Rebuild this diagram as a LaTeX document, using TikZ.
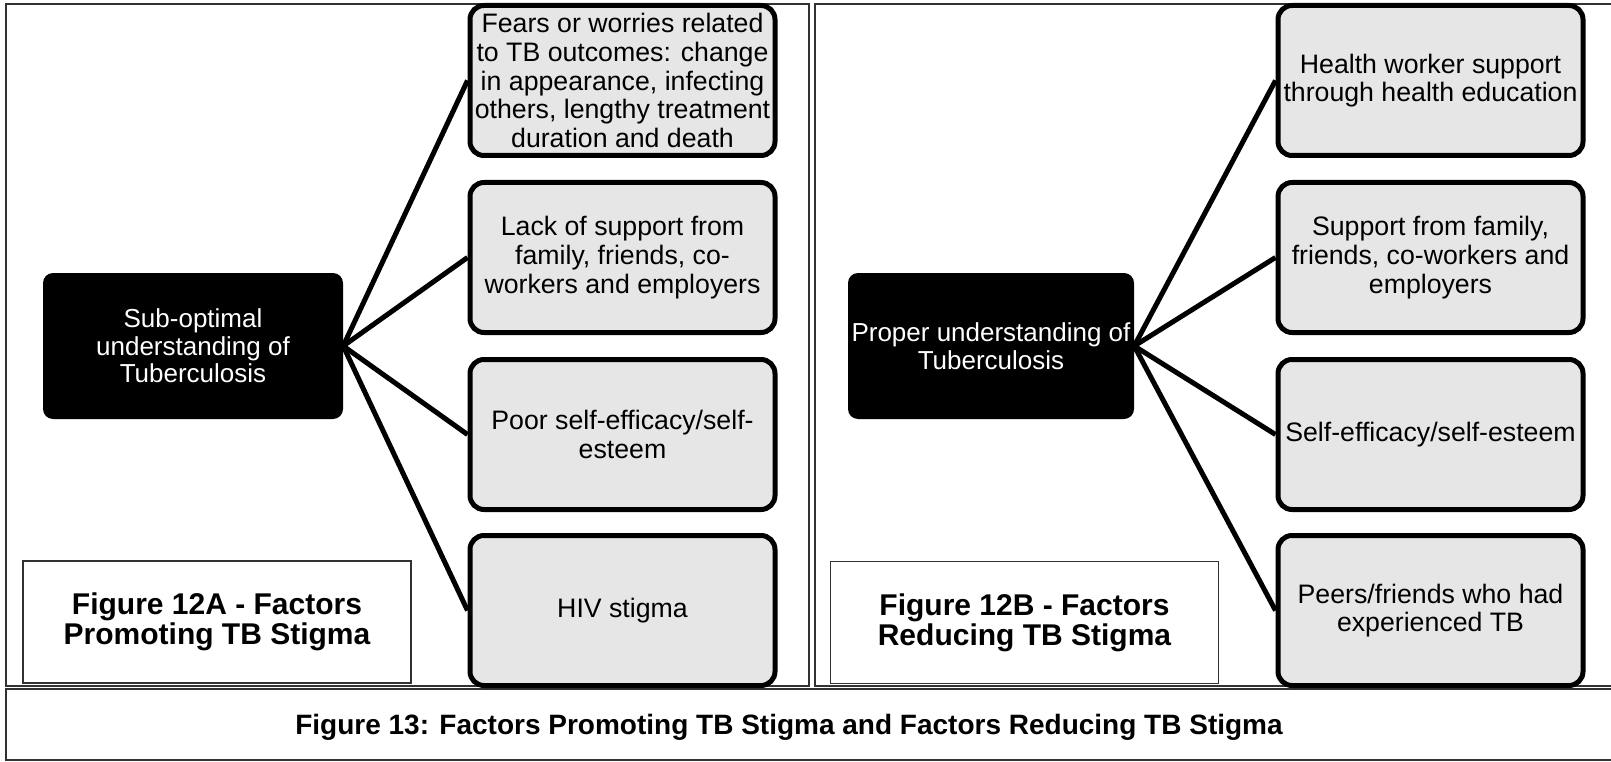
\documentclass[tikz,border=0pt]{standalone}
\usepackage{fontspec}
\setmainfont{Liberation Sans}
\definecolor{boxfill}{RGB}{230,230,230}
\definecolor{framecol}{RGB}{50,50,50}
\begin{document}
\begin{tikzpicture}[x=1pt,y=-1pt,
  greybox/.style={draw=black, line width=5pt, fill=boxfill, rounded corners=14pt,
    minimum width=305pt, minimum height=150pt, align=center, inner sep=1pt,
    font=\fontsize{26.7}{28.8}\selectfont},
  darkbox/.style={fill=black, text=white, rounded corners=10pt, minimum height=146pt,
    align=center, inner sep=0pt, font=\fontsize{26}{27.5}\selectfont},
  lblbox/.style={draw=framecol, line width=1.3pt, align=center, inner sep=0pt,
    minimum width=388pt, minimum height=122pt, font=\bfseries\fontsize{30}{30}\selectfont},
  framestyle/.style={draw=framecol, line width=1.6pt},
  conn/.style={draw=black, line width=5pt}
]
\useasboundingbox (0,0) rectangle (1611,762);

% frames
\draw[framestyle] (6,4) rectangle (809,686);
\draw[framestyle] (1611,4) -- (815,4) -- (815,686) -- (1611,686);
\draw[framestyle] (1611,689) -- (6,689) -- (6,760) -- (1611,760);

% left panel
\node[darkbox, minimum width=300pt] (la) at (193,346) {Sub-optimal\\understanding of\\Tuberculosis};
\node[greybox] (l1) at (622.5,80.5) {Fears or worries related\\to TB outcomes: change\\in appearance, infecting\\others, lengthy treatment\\duration and death};
\node[greybox] (l2) at (622.5,257.5) {Lack of support from\\family, friends, co-\\workers and employers};
\node[greybox] (l3) at (622.5,434.5) {Poor self-efficacy/self-\\esteem};
\node[greybox] (l4) at (622.5,610.5) {HIV stigma};
\foreach \t in {l1,l2,l3,l4} \draw[conn] (la.east) -- (\t.west);
\node[lblbox] (lcap) at (217,622) {Figure 12A - Factors\\Promoting TB Stigma};

% right panel
\node[darkbox, minimum width=286pt] (ra) at (991,346) {Proper understanding of\\Tuberculosis};
\node[greybox] (r1) at (1430.5,80.5) {Health worker support\\through health education};
\node[greybox] (r2) at (1430.5,257.5) {Support from family,\\friends, co-workers and\\employers};
\node[greybox] (r3) at (1430.5,434.5) {Self-efficacy/self-esteem};
\node[greybox] (r4) at (1430.5,610.5) {Peers/friends who had\\experienced TB};
\foreach \t in {r1,r2,r3,r4} \draw[conn] (ra.east) -- (\t.west);
\node[lblbox] (rcap) at (1024.5,622.5) {Figure 12B - Factors\\Reducing TB Stigma};

% caption
\node[font=\bfseries\fontsize{28}{30}\selectfont, inner sep=0pt] (cap) at (789,727)
  {Figure 13: Factors Promoting TB Stigma and Factors Reducing TB Stigma};
\end{tikzpicture}
\end{document}
